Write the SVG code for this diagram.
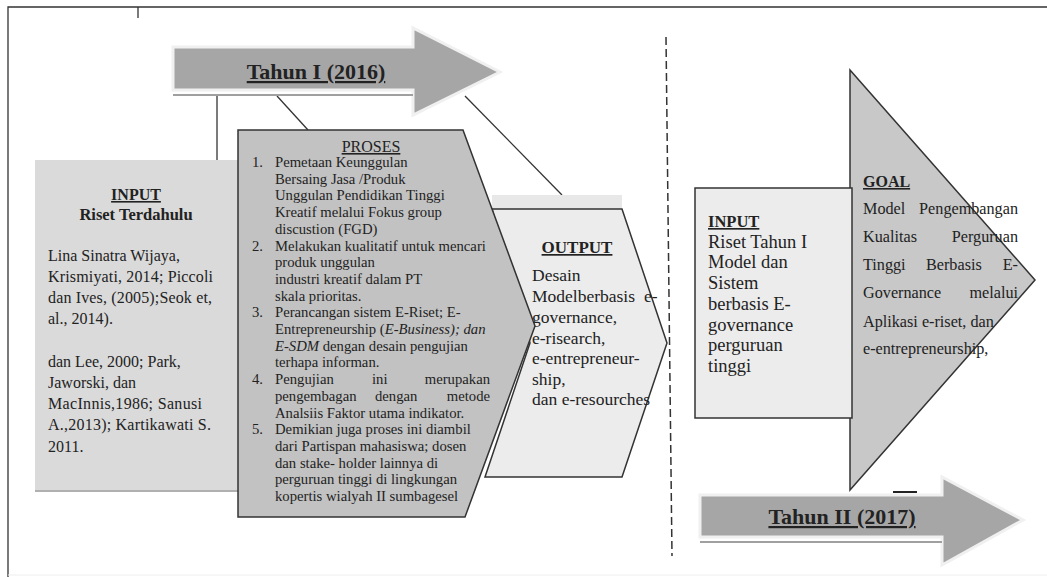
<svg xmlns="http://www.w3.org/2000/svg" width="1047" height="577" viewBox="0 0 1047 577">
<style>
text{font-family:"Liberation Serif","Times New Roman",serif;fill:#222}
.b{font-weight:bold}
.u{text-decoration:underline}
.t1{font-size:16px}
.t2{font-size:14.7px}
.t3{font-size:17.5px}
.t4{font-size:18.5px}
.t5{font-size:16.2px}
.arr{fill:#a6a6a6;stroke:#f0f0f0;stroke-width:3}
.ln{stroke:#333;stroke-width:1.3;fill:none}
.e{text-anchor:end}
.m{text-anchor:middle}
</style>
<rect width="1047" height="577" fill="#ffffff"/>
<g id="frame">
<path d="M8 577 V7 H1047" class="ln" stroke-width="2"/>
<line x1="138" y1="7" x2="138" y2="18" class="ln"/>
<line x1="8" y1="575" x2="1047" y2="575" stroke="#eeeeee" stroke-width="1"/>
</g>
<g id="connectors">
<line x1="217" y1="95" x2="217" y2="160" class="ln"/>
<line x1="277" y1="96" x2="308" y2="130" class="ln"/>
<line x1="465" y1="96" x2="562" y2="195" class="ln"/>
<line x1="666" y1="37" x2="672" y2="556" stroke="#333" stroke-width="1.5" stroke-dasharray="8,4"/>
</g>
<g id="tahun1">
<polygon class="arr" points="173,47 413,47 413,28 500,72 413,115 413,90 173,90"/>
<line x1="173" y1="95" x2="413" y2="95" stroke="#a0a0a0" stroke-width="2"/>
<text x="316" y="79" class="b u m" font-size="22">Tahun I (2016)</text>
</g>
<g id="input1">
<rect x="35" y="160" width="205" height="331" fill="#dadada"/>
<line x1="35" y1="491" x2="240" y2="491" stroke="#b0b0b0" stroke-width="2"/>
<text x="136" y="200" class="b u m" font-size="16">INPUT</text>
<text x="136" y="220" class="b m" font-size="16.5">Riset Terdahulu</text>
<text class="t1" fill="#333">
<tspan x="48" y="261">Lina Sinatra Wijaya,</tspan>
<tspan x="48" y="282" textLength="165" lengthAdjust="spacing">Krismiyati, 2014; Piccoli</tspan>
<tspan x="48" y="303" textLength="164" lengthAdjust="spacing">dan Ives, (2005);Seok et,</tspan>
<tspan x="48" y="324">al., 2014).</tspan>
<tspan x="48" y="367">dan Lee, 2000; Park,</tspan>
<tspan x="48" y="388">Jaworski, dan</tspan>
<tspan x="48" y="409" textLength="154" lengthAdjust="spacing">MacInnis,1986; Sanusi</tspan>
<tspan x="48" y="430" textLength="163" lengthAdjust="spacing">A.,2013); Kartikawati  S.</tspan>
<tspan x="48" y="452">2011.</tspan>
</text>
</g>
<g id="output">
<rect x="492" y="195" width="130" height="14" fill="#e8e8e8"/>
<polygon points="492,209 622,209 667,343 622,477 485,477 530,343" fill="#ececec" stroke="#333" stroke-width="1.5"/>
<text x="577" y="253" class="b u m" font-size="17">OUTPUT</text>
<text class="t3">
<tspan x="532" y="281">Desain</tspan>
<tspan x="532" y="302">Modelberbasis</tspan>
<tspan x="662" y="302" class="e">e-</tspan>
<tspan x="532" y="323">governance,</tspan>
<tspan x="532" y="344">e-risearch,</tspan>
<tspan x="532" y="364">e-entrepreneur-</tspan>
<tspan x="532" y="385">ship,</tspan>
<tspan x="532" y="405">dan e-resourches</tspan>
</text>
</g>
<g id="proses">
<polygon points="238,130 463,130 535,326 465,517 238,517" fill="#c2c2c2" stroke="#333" stroke-width="1.5"/>
<text x="371" y="152" class="u m" font-size="16">PROSES</text>
<g class="t2">
<text x="252" y="167">1.</text>
<text x="275" y="167">Pemetaan Keunggulan</text>
<text x="275" y="184">Bersaing Jasa /Produk</text>
<text x="275" y="200">Unggulan Pendidikan Tinggi</text>
<text x="275" y="217">Kreatif melalui Fokus group</text>
<text x="275" y="234">discustion (FGD)</text>
<text x="252" y="251">2.</text>
<text x="275" y="251">Melakukan kualitatif untuk mencari</text>
<text x="275" y="267">produk unggulan</text>
<text x="275" y="284">industri kreatif dalam PT</text>
<text x="275" y="301">skala prioritas.</text>
<text x="252" y="317">3.</text>
<text x="275" y="317">Perancangan sistem E-Riset; E-</text>
<text x="275" y="334">Entrepreneurship (<tspan font-style="italic">E-Business); dan</tspan></text>
<text x="275" y="351"><tspan font-style="italic">E-SDM</tspan> dengan desain pengujian</text>
<text x="275" y="367">terhapa informan.</text>
<text x="252" y="384">4.</text>
<text x="275" y="384">Pengujian</text>
<text x="372" y="384">ini</text>
<text x="490" y="384" class="e">merupakan</text>
<text x="275" y="401">pengembagan</text>
<text x="375" y="401">dengan</text>
<text x="490" y="401" class="e">metode</text>
<text x="275" y="418">Analsiis Faktor utama indikator.</text>
<text x="252" y="434">5.</text>
<text x="275" y="434">Demikian juga proses ini diambil</text>
<text x="275" y="451">dari Partispan mahasiswa; dosen</text>
<text x="275" y="468">dan stake- holder lainnya di</text>
<text x="275" y="484">perguruan tinggi di lingkungan</text>
<text x="275" y="501">kopertis wialyah II sumbagesel</text>
</g>
</g>
<g id="goal">
<polygon points="850,70 1035,280 850,490" fill="#c8c8c8" stroke="#333" stroke-width="1.5"/>
<text x="863" y="187" class="b u" font-size="16">GOAL</text>
<g class="t5">
<text x="863" y="214">Model</text>
<text x="1018" y="214" class="e">Pengembangan</text>
<text x="863" y="242">Kualitas</text>
<text x="1018" y="242" class="e">Perguruan</text>
<text x="863" y="270">Tinggi</text>
<text x="926" y="270">Berbasis</text>
<text x="1018" y="270" class="e">E-</text>
<text x="863" y="298">Governance</text>
<text x="1018" y="298" class="e">melalui</text>
<text x="863" y="327">Aplikasi e-riset, dan</text>
<text x="863" y="354">e-entrepreneurship,</text>
</g>
</g>
<g id="input2">
<rect x="695" y="188" width="157" height="230" fill="#ececec" stroke="#333" stroke-width="1.5"/>
<text x="708" y="227" class="b u" font-size="16.5">INPUT</text>
<text class="t4">
<tspan x="708" y="248">Riset Tahun I</tspan>
<tspan x="708" y="268">Model dan</tspan>
<tspan x="708" y="289">Sistem</tspan>
<tspan x="708" y="310">berbasis  E-</tspan>
<tspan x="708" y="331">governance</tspan>
<tspan x="708" y="351">perguruan</tspan>
<tspan x="708" y="372">tinggi</tspan>
</text>
</g>
<g id="tahun2">
<line x1="893" y1="492" x2="917" y2="492" stroke="#222" stroke-width="2"/>
<polygon class="arr" points="700,495 942,495 942,477 1023,520 942,565 942,537 700,537"/>
<line x1="700" y1="542" x2="942" y2="542" stroke="#a0a0a0" stroke-width="2"/>
<text x="842" y="524" class="b u m" font-size="22">Tahun II (2017)</text>
</g>
</svg>
